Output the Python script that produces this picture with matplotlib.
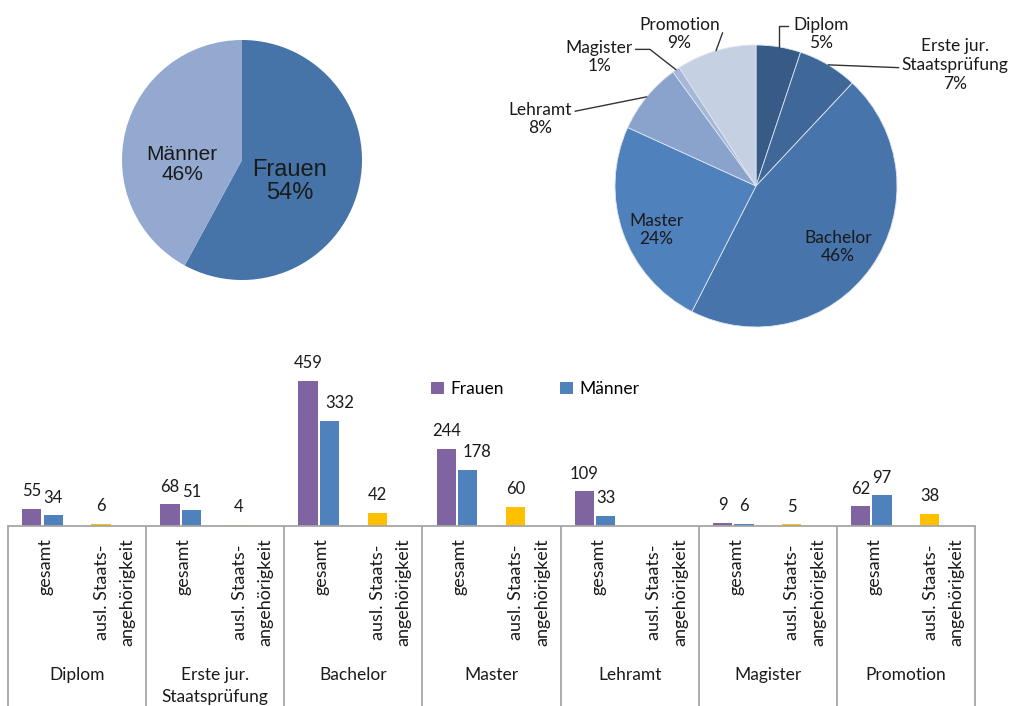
import numpy as np
import matplotlib
matplotlib.use("Agg")
import matplotlib.pyplot as plt

plt.rcParams['font.family'] = ['Lato', 'DejaVu Sans']

# Daten Balkendiagramm
abschluesse = ["Diplom", "Erste jur.\nStaatsprüfung", "Bachelor", "Master",
               "Lehramt", "Magister", "Promotion"]
unterkategorien = ["gesamt", "ausl. Staats-\nangehörigkeit"]
frauen = [55, 68, 459, 244, 109, 9, 62]
maenner = [34, 51, 332, 178, 33, 6, 97]
auslaender = [6, 4, 42, 60, None, 5, 38]

# Daten Tortendiagramme
geschlecht = ["Frauen", "Männer"]
geschlecht_text = ["54%", "46%"]
pie_abschluesse = ["Diplom", "Erste jur.\nStaatsprüfung", "Bachelor", "Master",
                   "Lehramt", "Magister", "Promotion"]

c_frauen = "#8064A2"
c_maenner = "#4F81BD"
c_ausl = "#FFC000"
grau = "#A6A6A6"
textfarbe = "#1A1A1A"

W, H = 1010, 706
fig = plt.figure(figsize=(W / 100, H / 100), dpi=100)


def px_axes(x0, y0, x1, y1):
    # pixel box (top-down) -> figure fraction
    return [x0 / W, (H - y1) / H, (x1 - x0) / W, (y1 - y0) / H]


# ---------- Balken ----------
ax = fig.add_axes(px_axes(8, 340, 975, 526))
ax.patch.set_alpha(0)
start = np.arange(len(abschluesse)) * 2
bw = 0.28
off = 0.155

b1 = ax.bar(start + 0.5 - off, frauen, bw, color=c_frauen, label="Frauen")
b2 = ax.bar(start + 0.5 + off, maenner, bw, color=c_maenner, label="Männer")
ax_x = [s + 1.5 - off for s, v in zip(start, auslaender) if v is not None]
ax_v = [v for v in auslaender if v is not None]
b3 = ax.bar(ax_x, ax_v, bw, color=c_ausl)

ax.bar_label(b1, padding=7, fontsize=12, color=textfarbe)
lab2 = ax.bar_label(b2, padding=7, fontsize=12, color=textfarbe)
ax.bar_label(b3, padding=7, fontsize=12, color=textfarbe)
# grosse Maennerwerte stehen bei Excel etwas nach rechts versetzt
for t, v in zip(lab2, maenner):
    if v > 150:
        t.xyann = (7, t.xyann[1])

ax.set_xlim(0, 2 * len(abschluesse))
ax.set_ylim(0, 587)
ax.set_xticks([])
ax.set_yticks([])
for s in ("top", "left", "right"):
    ax.spines[s].set_visible(False)
ax.spines["bottom"].set_color(grau)
ax.spines["bottom"].set_linewidth(1.3)

trans = ax.get_xaxis_transform()
ax.vlines(np.arange(0, 2 * len(abschluesse) + 1, 2), -1.1, 0, transform=trans,
          color=grau, lw=1.3, clip_on=False)

for i, s in enumerate(start):
    for j, uk in enumerate(unterkategorien):
        ax.annotate(uk, xy=(s + 0.5 + j, 0), xycoords=trans, xytext=(3, -12),
                    textcoords="offset pixels", rotation=90, ha="center", va="top",
                    multialignment="center", fontsize=13, color=textfarbe,
                    linespacing=1.75, annotation_clip=False)
    ax.annotate(abschluesse[i], xy=(s + 1, 0), xycoords=trans, xytext=(0, -141),
                textcoords="offset pixels", ha="center", va="top",
                multialignment="center", fontsize=12.5, color=textfarbe,
                linespacing=1.45, annotation_clip=False)

ax.legend(handles=[b1, b2], ncol=2, frameon=False, loc="center",
          bbox_to_anchor=(0.545, 0.737), handlelength=0.75, handleheight=0.75,
          handletextpad=0.4, columnspacing=3.2, fontsize=12.5)

# ---------- Torte links ----------
axl = fig.add_axes(px_axes(92, 10, 392, 310))
axl.patch.set_alpha(0)
werte_g = [sum(frauen), sum(maenner)]
axl.pie(werte_g, colors=["#4674A8", "#93A9D0"], startangle=90, counterclock=False,
        wedgeprops=dict(linewidth=0))
axl.set_xlim(-1.25, 1.25)
axl.set_ylim(-1.25, 1.25)
axl.set_aspect("equal")
axl.axis("off")
axl.text(0.40, -0.18, geschlecht[0] + "\n" + geschlecht_text[0], ha="center",
         va="center", fontsize=17, family="Liberation Sans", color=textfarbe,
         linespacing=1.05)
axl.text(-0.50, -0.04, geschlecht[1] + "\n" + geschlecht_text[1], ha="center",
         va="center", fontsize=15, family="Liberation Sans", color=textfarbe,
         linespacing=1.05)

# ---------- Torte rechts ----------
axr = fig.add_axes(px_axes(606, 36, 906, 336))
axr.patch.set_alpha(0)
werte_a = [f + m for f, m in zip(frauen, maenner)]
farben_a = ["#375A87", "#3F6899", "#4674AB", "#4F81BD", "#8AA3CC", "#A5B8D8", "#C6D0E3"]
wedges, _ = axr.pie(werte_a, colors=farben_a, startangle=90, counterclock=False,
                    wedgeprops=dict(linewidth=0.6, edgecolor="#DDE4F0"))
axr.set_xlim(-150 / 141, 150 / 141)
axr.set_ylim(-150 / 141, 150 / 141)
axr.set_aspect("equal")
axr.axis("off")

gesamt = sum(werte_a)
# Textposition, relpos, Verbindungsstil
label_pos = [
    ((0.461, 1.078), (-0.1, 0.73), "angle,angleA=0,angleB=90,rad=0"),
    ((1.411, 0.858), (-0.02, 0.45), "arc3"),
    ((0.582, -0.433), None, None),
    ((-0.709, -0.312), None, None),
    ((-1.528, 0.475), (1.03, 0.72), "arc3"),
    ((-1.113, 0.915), (1.03, 0.72), "angle,angleA=0,angleB=142,rad=0"),
    ((-0.543, 1.078), (1.06, 0.7), "arc3"),
]
for w, name, v, (pos, rel, cs) in zip(wedges, pie_abschluesse, werte_a, label_pos):
    txt = "%s\n%d%%" % (name, round(100 * v / gesamt))
    if rel is None:
        axr.text(pos[0], pos[1], txt, ha="center", va="center", fontsize=12.5,
                 color=textfarbe, multialignment="center", linespacing=1.2)
    else:
        mid = np.deg2rad((w.theta1 + w.theta2) / 2)
        axr.annotate(txt, xy=(np.cos(mid), np.sin(mid)), xytext=pos,
                     ha="center", va="center", fontsize=12.5, color=textfarbe,
                     multialignment="center", linespacing=1.2,
                     arrowprops=dict(arrowstyle="-", color="#333333", lw=1,
                                     shrinkA=0, shrinkB=0, relpos=rel,
                                     connectionstyle=cs))

fig.savefig("out.png", dpi=100)
